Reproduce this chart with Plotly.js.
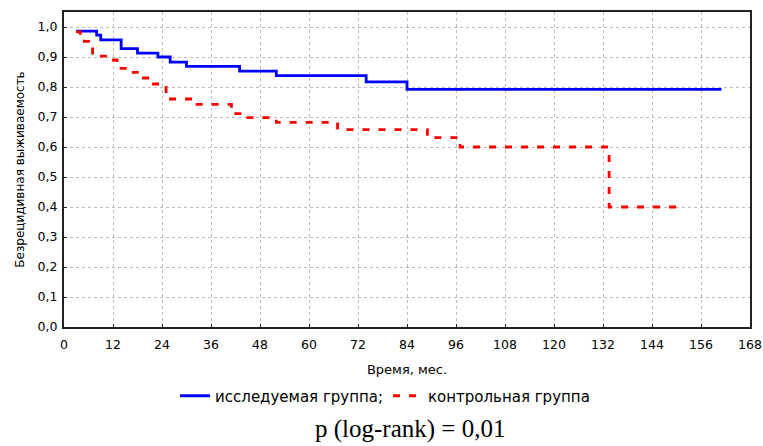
<!DOCTYPE html>
<html><head><meta charset="utf-8">
<script src="https://cdn.plot.ly/plotly-3.0.1.min.js"></script>
<style>html,body{margin:0;padding:0;background:#fff}</style>
</head><body><div id="chart" style="width:763px;height:446px"></div>
<script>
// Data (months, survival)
const studyTime = [3, 8, 9, 14, 18, 23, 26, 30, 43, 52, 74, 84, 161];
const studySurv = [0.986, 0.973, 0.957, 0.928, 0.913, 0.900, 0.883, 0.869, 0.853, 0.838, 0.817, 0.792, 0.792];
const controlTime = [3, 4, 5, 6, 7, 11, 13, 16, 19, 21, 25, 32, 41, 44, 52, 67, 89, 97, 133.5, 150];
const controlSurv = [0.984, 0.968, 0.952, 0.936, 0.903, 0.890, 0.862, 0.849, 0.830, 0.810, 0.760, 0.742, 0.711, 0.698, 0.682, 0.658, 0.631, 0.600, 0.400, 0.400];
const xTicks = [0, 12, 24, 36, 48, 60, 72, 84, 96, 108, 120, 132, 144, 156, 168];
const yTicks = [0, 0.1, 0.2, 0.3, 0.4, 0.5, 0.6, 0.7, 0.8, 0.9, 1.0];
const seriesNames = ['исследуемая группа;', 'контрольная группа'];

const SANS = 'DejaVu Sans, Arial, sans-serif';
const traces = [
  {x: studyTime, y: studySurv, name: seriesNames[0], type: 'scatter', mode: 'lines',
   line: {shape: 'hv', color: '#0000ff', width: 2.8}},
  {x: controlTime, y: controlSurv, name: seriesNames[1], type: 'scatter', mode: 'lines',
   line: {shape: 'hv', color: '#ff0000', width: 2.8, dash: '7px,9px'}}
];
const layout = {
  width: 763, height: 446,
  margin: {l: 64, r: 13, t: 12, b: 119},
  paper_bgcolor: '#fff', plot_bgcolor: '#fff',
  separators: ', ',
  font: {family: SANS, size: 12, color: '#000'},
  showlegend: true,
  legend: {orientation: 'h', x: 0.468, xanchor: 'center', y: -0.219, yanchor: 'middle',
           font: {family: SANS, size: 15, color: '#000'}, bgcolor: 'rgba(0,0,0,0)'},
  xaxis: {range: [0, 168], tickvals: xTicks, ticktext: xTicks.map(String),
          showgrid: true, gridcolor: '#bdbdbd', griddash: 'dot', gridwidth: 1,
          zeroline: false, showline: true, linecolor: '#222', linewidth: 2, mirror: true,
          ticks: 'inside', ticklen: 3, tickcolor: '#222',
          tickfont: {family: SANS, size: 12.5, color: '#000'}, ticklabelstandoff: 5,
          title: {text: 'Время, мес.', font: {family: SANS, size: 13, color: '#000'}, standoff: 14}},
  yaxis: {range: [0, 1.05], tickvals: yTicks, tickformat: '.1f',
          showgrid: true, gridcolor: '#bdbdbd', griddash: 'dot', gridwidth: 1,
          zeroline: false, showline: true, linecolor: '#222', linewidth: 2, mirror: true,
          ticks: 'inside', ticklen: 3, tickcolor: '#222',
          tickfont: {family: SANS, size: 12.5, color: '#000'}, ticklabelstandoff: 2,
          title: {text: 'Безрецидивная выживаемость', font: {family: SANS, size: 12, color: '#000'}, standoff: 10}},
  annotations: [{text: 'p (log-rank) = 0,01', xref: 'paper', yref: 'paper', x: 0.504, y: -0.324,
                 xanchor: 'center', yanchor: 'middle', showarrow: false,
                 font: {family: 'Liberation Serif, Times New Roman, serif', size: 25, color: '#000'}}]
};
Plotly.newPlot('chart', traces, layout, {displayModeBar: false, staticPlot: true});
</script></body></html>
